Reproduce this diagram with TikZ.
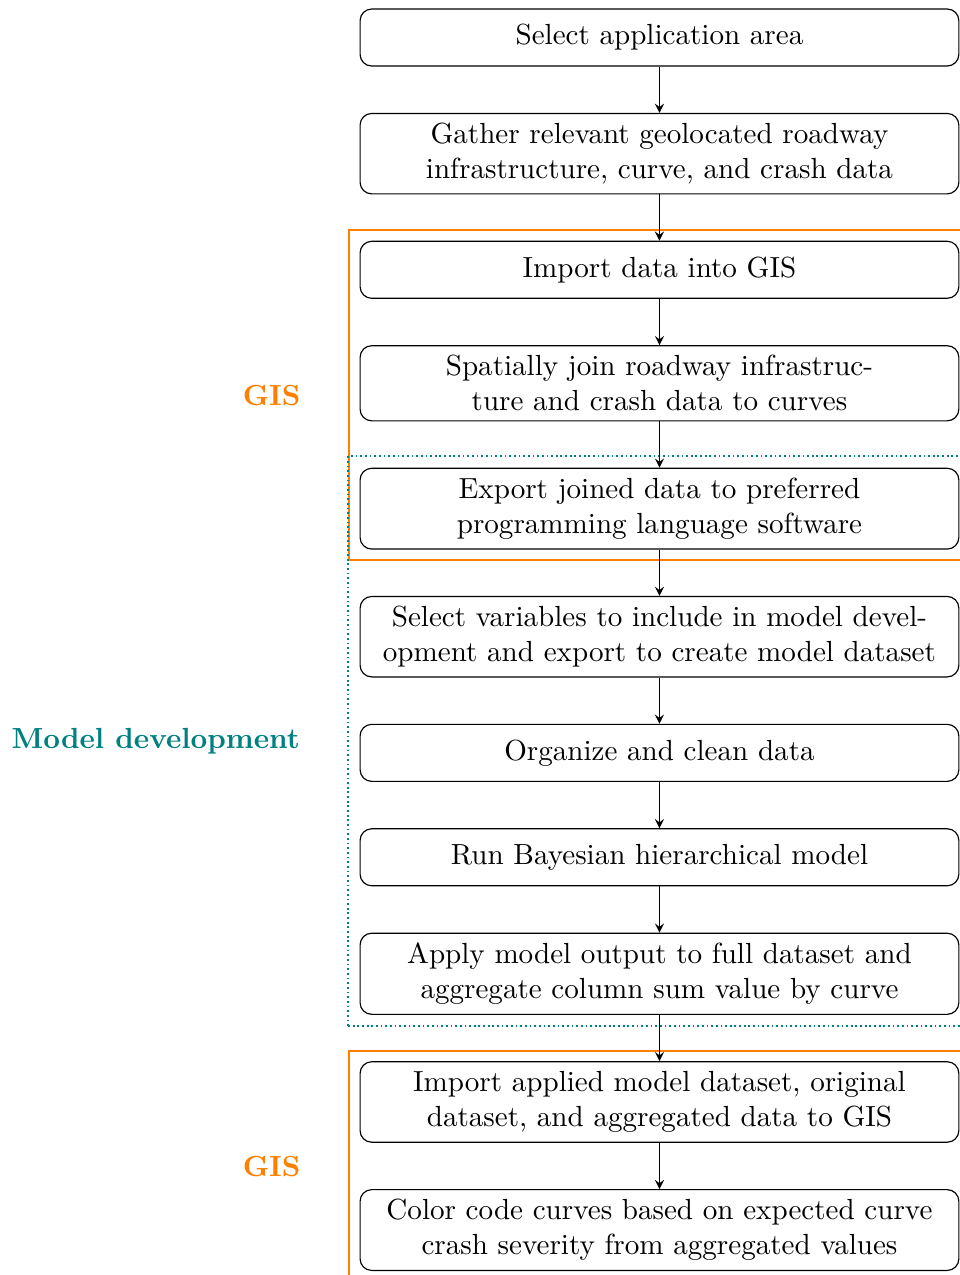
\documentclass[tikz,border=0pt]{standalone}
\usetikzlibrary{positioning,fit}

\begin{document}
\begin{tikzpicture}[
    stepbox/.style={draw, rounded corners, align=center, text width=7cm, minimum height=19.6pt},
    gisframe/.style={draw=orange, thick, inner sep=3.6pt},
    modelframe/.style={draw=teal, semithick, densely dotted, inner sep=3.9pt},
    framelabel/.style={font=\bfseries},
    node distance=15.9pt,
    >=stealth
  ]
    \useasboundingbox (0,0) rectangle (330pt,-438.3pt);
    \node[stepbox] (area) at (226.7pt,-12.9pt) {Select application area};
    \node[stepbox, below=of area] (gather) {Gather relevant geolocated roadway infrastructure, curve, and crash data};
    \node[stepbox, below=of gather] (import) {Import data into GIS};
    \node[stepbox, below=of import] (join) {Spatially join roadway infrastructure and crash data to curves};
    \node[stepbox, below=of join] (export) {Export joined data to preferred programming language software};
    \node[stepbox, below=of export] (vars) {Select variables to include in model development and export to create model dataset};
    \node[stepbox, below=of vars] (clean) {Organize and clean data};
    \node[stepbox, below=of clean] (run) {Run Bayesian hierarchical model};
    \node[stepbox, below=of run] (apply) {Apply model output to full dataset and aggregate column sum value by curve};
    \node[stepbox, below=of apply] (importB) {Import applied model dataset, original dataset, and aggregated data to GIS};
    \node[stepbox, below=of importB] (color) {Color code curves based on expected curve crash severity from aggregated values};

    \node[gisframe, fit=(import)(export)] (gisA) {};
    \node[modelframe, fit=(export)(apply)] (model) {};
    \node[gisframe, fit=(importB)(color)] (gisB) {};
    \node[framelabel, text=orange, left=12.8pt of gisA] (gisAlabel) {GIS};
    \node[framelabel, text=teal, left=12.8pt of model] (modellabel) {Model development};
    \node[framelabel, text=orange, left=12.8pt of gisB] (gisBlabel) {GIS};

    \draw[->] (area) -- (gather);
    \draw[->] (gather) -- (import);
    \draw[->] (import) -- (join);
    \draw[->] (join) -- (export);
    \draw[->] (export) -- (vars);
    \draw[->] (vars) -- (clean);
    \draw[->] (clean) -- (run);
    \draw[->] (run) -- (apply);
    \draw[->] (apply) -- (importB);
    \draw[->] (importB) -- (color);
\end{tikzpicture}
\end{document}
